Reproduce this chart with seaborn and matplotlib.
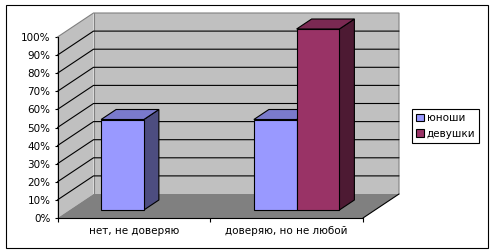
import matplotlib
matplotlib.use("Agg")
import matplotlib.pyplot as plt
import seaborn as sns
import pandas as pd
import numpy as np
from matplotlib.patches import Polygon, Rectangle
from matplotlib.colors import to_rgb

# ---- data ----
categories = ["нет, не доверяю", "доверяю, но не любой"]
series_names = ["юноши", "девушки"]
boys = [50, 50]
girls = [0, 100]
series_colors = ["#9999FF", "#993366"]
y_ticks = [0, 10, 20, 30, 40, 50, 60, 70, 80, 90, 100]
y_tick_labels = [f"{v}%" for v in y_ticks]

df = pd.DataFrame({
    "category": categories * 2,
    "group": [series_names[0]] * len(categories) + [series_names[1]] * len(categories),
    "value": boys + girls,
})

sns.set_style("ticks")
plt.rcParams["font.family"] = ["DejaVu Sans"]
FS = 7.5

W, H = 494, 252
fig = plt.figure(figsize=(W / 100, H / 100), dpi=100)
fig.patch.set_facecolor("white")

# front plane of the 3D box in pixels
x0p, x1p, y0p, y1p = 57.5, 363.0, 218.0, 37.0
ax = fig.add_axes([x0p / W, (H - y0p) / H, (x1p - x0p) / W, (y0p - y1p) / H])
ax.patch.set_visible(False)

sns.barplot(data=df, x="category", y="value", hue="group", order=categories,
            hue_order=series_names, palette=series_colors, width=0.56,
            edgecolor="black", linewidth=0.8, saturation=1, errorbar=None,
            legend=False, ax=ax)
bars = sorted(list(ax.patches), key=lambda p: p.get_x())
ax.set_xlim(-0.5, 1.5)
ax.set_ylim(0, 100)

ux = 2.0 / (x1p - x0p)
uy = 100.0 / (y0p - y1p)
DX, DY = 36 * ux, 24 * uy          # full depth of the box
sx, sy = 10 * ux, 8 * uy           # bar front-face depth offset
bx, by = 15 * ux, 10 * uy          # bar depth

wall = "#C0C0C0"
floorc = "#808080"
edgec = "#808080"
xl, xr = -0.5, 1.5

# floor
ax.add_patch(Polygon([(xl, 0), (xr, 0), (xr + DX, DY), (xl + DX, DY)], closed=True,
                     fc=floorc, ec="none", zorder=0.5, clip_on=False))
# left side wall
ax.add_patch(Polygon([(xl, 0), (xl + DX, DY), (xl + DX, 100 + DY), (xl, 100)], closed=True,
                     fc=wall, ec="none", zorder=0.4, clip_on=False))
# back wall
ax.add_patch(Rectangle((xl + DX, DY), xr - xl, 100, fc=wall, ec="none", zorder=0.4, clip_on=False))
# wall edges
ax.plot([xl, xl + DX, xr + DX, xr + DX], [100, 100 + DY, 100 + DY, DY], color=edgec, lw=0.8,
        zorder=0.6, clip_on=False, solid_joinstyle="miter")
ax.plot([xl + DX, xl + DX], [DY, 100 + DY], color=edgec, lw=0.8, zorder=0.6, clip_on=False)
# gridlines
for v in y_ticks[1:-1]:
    ax.plot([xl, xl + DX, xr + DX], [v, v + DY, v + DY], color="black", lw=0.8,
            zorder=0.7, clip_on=False)
# floor right edge
ax.plot([xr, xr + DX], [0, DY], color="black", lw=0.8, zorder=0.7, clip_on=False)

# 3D bars from the seaborn bars
z = 2
for p in bars:
    x, w, h = p.get_x(), p.get_width(), p.get_height()
    if h <= 0:
        p.set_visible(False)
        continue
    fc = np.array(to_rgb(p.get_facecolor()))
    xa, xb = x + sx, x + sx + w
    bot, top = sy, sy + h
    p.set_x(xa)
    p.set_y(bot)
    p.set_clip_on(False)
    ax.add_patch(Polygon([(xb, bot), (xb + bx, bot + by), (xb + bx, top + by), (xb, top)],
                         closed=True, fc=fc * 0.5, ec="black", lw=0.8, zorder=z, clip_on=False))
    ax.add_patch(Polygon([(xa, top), (xb, top), (xb + bx, top + by), (xa + bx, top + by)],
                         closed=True, fc=fc * 0.8, ec="black", lw=0.8, zorder=z, clip_on=False))
    p.set_zorder(z + 1)
    z += 2

# axes styling
for s in ["top", "right"]:
    ax.spines[s].set_visible(False)
for s in ["left", "bottom"]:
    ax.spines[s].set_color("black")
    ax.spines[s].set_linewidth(0.8)
    ax.spines[s].set_zorder(1)

ax.set_yticks(y_ticks)
ax.set_yticklabels(y_tick_labels)
ax.tick_params(axis="y", direction="out", length=2.5, width=0.8, color="black",
               pad=2.5, labelsize=FS, labelcolor="black", left=True)
ax.set_xticks([0, 1])
ax.set_xticklabels(categories)
ax.set_xticks([-0.5, 0.5, 1.5], minor=True)
ax.tick_params(axis="x", which="major", length=0, pad=6, labelsize=FS, labelcolor="black")
ax.tick_params(axis="x", which="minor", direction="out", length=3, width=0.8, color="black", bottom=True)
ax.set_xlabel("")
ax.set_ylabel("")

# legend
handles = [Rectangle((0, 0), 1, 1, fc=c, ec="black", lw=0.8) for c in series_colors]
leg = fig.legend(handles, series_names, loc="upper left", bbox_to_anchor=(412 / W, 1 - 109 / H),
                 frameon=True, fancybox=False, edgecolor="black", fontsize=FS,
                 handlelength=0.75, handleheight=0.75, handletextpad=0.25, borderpad=0.4,
                 labelspacing=0.55, borderaxespad=0, framealpha=1)
leg.get_frame().set_linewidth(0.8)
for t in leg.get_texts():
    t.set_color("black")

# outer chart border
fig.patches.append(Rectangle((5.5 / W, 4 / H), 482.5 / W, 243 / H, transform=fig.transFigure,
                             fill=False, ec="black", lw=0.8))

fig.savefig("out.png", dpi=100)
